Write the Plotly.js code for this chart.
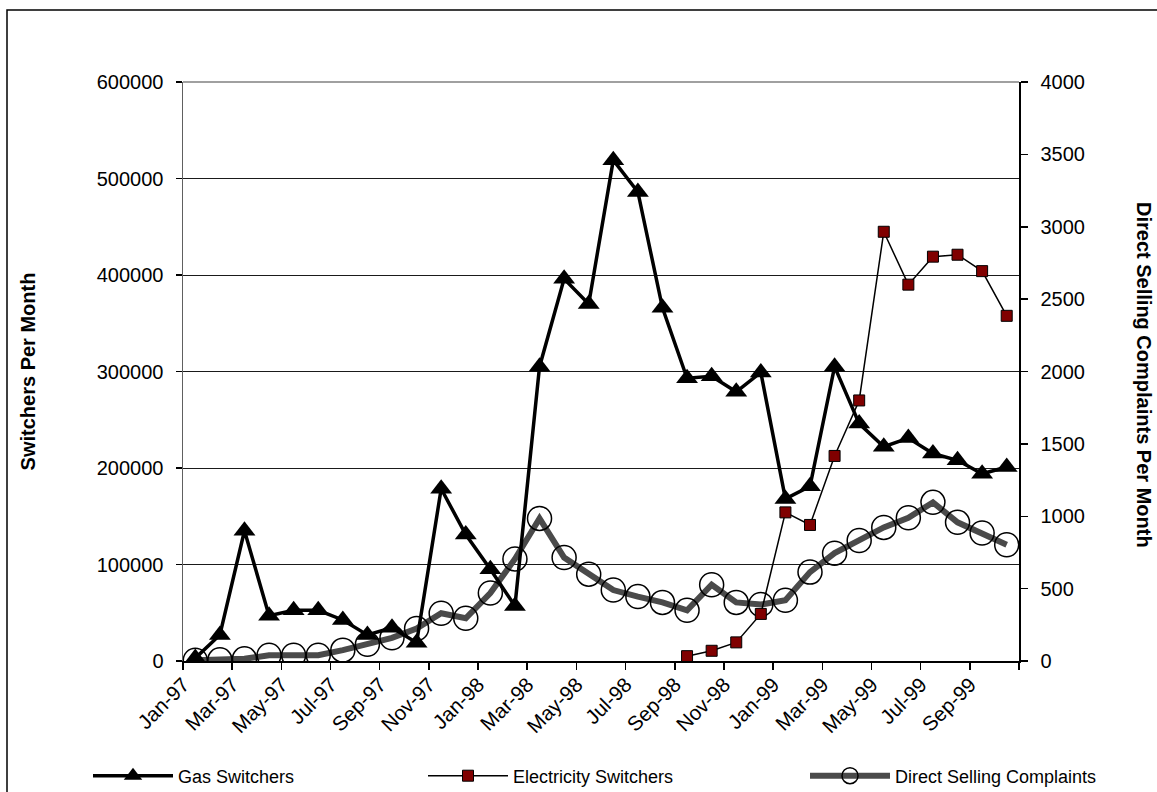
<!DOCTYPE html>
<html>
<head>
<meta charset="utf-8">
<script src="https://cdn.plot.ly/plotly-3.0.1.min.js"></script>
<style>
html,body{margin:0;padding:0;background:#fff;}
#chart{width:1157px;height:792px;}
</style>
</head>
<body>
<div id="chart"></div>
<script>
// Months Jan-97 .. Oct-99 (34 categories)
const months = ["Jan-97","Feb-97","Mar-97","Apr-97","May-97","Jun-97","Jul-97","Aug-97","Sep-97","Oct-97","Nov-97","Dec-97",
  "Jan-98","Feb-98","Mar-98","Apr-98","May-98","Jun-98","Jul-98","Aug-98","Sep-98","Oct-98","Nov-98","Dec-98",
  "Jan-99","Feb-99","Mar-99","Apr-99","May-99","Jun-99","Jul-99","Aug-99","Sep-99","Oct-99"];

const gasSwitchers = [3000, 27000, 135000, 47000, 52500, 52500, 42500, 27000, 34500, 19000, 178500, 131000,
  95000, 57000, 305000, 396000, 370000, 519000, 486000, 366000, 293000, 295000, 279000, 299000,
  168000, 181000, 305000, 246000, 222000, 231000, 215000, 208000, 194000, 201000];

const electricitySwitchers = [null, null, null, null, null, null, null, null, null, null, null, null,
  null, null, null, null, null, null, null, null, 5000, 10600, 19300, 48800,
  154000, 141000, 212500, 270000, 444800, 390000, 419000, 421000, 404000, 357700];

const complaints = [5, 8, 15, 40, 40, 40, 75, 115, 160, 225, 330, 295,
  470, 705, 985, 715, 600, 490, 445, 405, 350, 527, 405, 390,
  420, 614, 745, 832, 923, 990, 1096, 958, 884, 803];

const tickLabels = ["Jan-97","Mar-97","May-97","Jul-97","Sep-97","Nov-97","Jan-98","Mar-98","May-98",
  "Jul-98","Sep-98","Nov-98","Jan-99","Mar-99","May-99","Jul-99","Sep-99"];

const idx = months.map((m, i) => i);
const labelPos = tickLabels.map(l => months.indexOf(l));
const boundaryPos = [];
for (let b = -0.5; b <= months.length - 0.5; b += 2) boundaryPos.push(b);

const FONT = "Liberation Sans, Arial, sans-serif";

const traces = [
  {
    x: idx, y: complaints, yaxis: "y", name: "Direct Selling Complaints",
    type: "scatter", mode: "lines+markers", legend: "legend3",
    line: {color: "#4a4a4a", width: 6},
    marker: {symbol: "circle", size: 24, color: "rgba(0,0,0,0)", line: {color: "#000", width: 1.5}}
  },
  {
    x: idx, y: electricitySwitchers, yaxis: "y2", name: "Electricity Switchers",
    type: "scatter", mode: "lines+markers", legend: "legend2",
    line: {color: "#000", width: 1.5},
    marker: {symbol: "square", size: 11, color: "#800000", line: {color: "#000", width: 1}},
    connectgaps: false
  },
  {
    x: idx, y: gasSwitchers, yaxis: "y2", name: "Gas Switchers",
    type: "scatter", mode: "lines+markers", legend: "legend",
    line: {color: "#000", width: 3.5},
    marker: {symbol: "triangle-up", size: 19, color: "#000"}
  }
];

const W = 1157, H = 792;
const L = 183, R = 1019, T = 82, B = 661;
const px2x = p => (p - L) / (R - L);
const px2y = p => (B - p) / (B - T);

const legendBase = {
  orientation: "h", xref: "container", yref: "container", itemwidth: 80,
  y: 1 - 776 / H, xanchor: "left", yanchor: "middle",
  font: {family: FONT, size: 18, color: "#000"}, bgcolor: "rgba(0,0,0,0)", borderwidth: 0
};

const layout = {
  width: W, height: H,
  margin: {l: L, r: W - R, t: T, b: H - B, pad: 0},
  paper_bgcolor: "#fff", plot_bgcolor: "#fff",
  font: {family: FONT, size: 20, color: "#000"},
  showlegend: true,
  xaxis: {
    range: [-0.5, months.length - 0.5],
    tickmode: "array", tickvals: labelPos, ticktext: tickLabels,
    tickangle: -45, ticks: "", showgrid: false, zeroline: false,
    showline: true, linecolor: "#000", linewidth: 1.5,
    tickfont: {family: FONT, size: 20.5, color: "#000"}, ticklabelshift: -12, ticklabelstandoff: 2,
    minor: {tickmode: "array", tickvals: boundaryPos, ticks: "outside", ticklen: 7, tickcolor: "#000", tickwidth: 1.5, showgrid: false},
    fixedrange: true
  },
  yaxis: {
    side: "right", range: [0, 4000], tickmode: "linear", tick0: 0, dtick: 500,
    tickformat: "d", ticks: "outside", ticklen: 7, tickwidth: 1.5, tickcolor: "#000",
    showgrid: false, zeroline: false, showline: true, linecolor: "#000", linewidth: 1.5,
    tickfont: {family: FONT, size: 20, color: "#000"}, ticklabelstandoff: 9
  },
  yaxis2: {
    overlaying: "y", side: "left", range: [0, 600000], tickmode: "linear", tick0: 0, dtick: 100000,
    tickformat: "d", ticks: "outside", ticklen: 6, tickwidth: 1.5, tickcolor: "#000",
    showgrid: true, gridcolor: "#1a1a1a", gridwidth: 1, zeroline: false,
    showline: true, linecolor: "#606060", linewidth: 1.5,
    tickfont: {family: FONT, size: 20, color: "#000"}, ticklabelstandoff: 8,
    title: {text: "<b>Switchers Per Month</b>", font: {family: FONT, size: 20, color: "#000"}, standoff: 56}
  },
  legend: Object.assign({}, legendBase, {x: 88 / W}),
  legend2: Object.assign({}, legendBase, {x: 423 / W}),
  legend3: Object.assign({}, legendBase, {x: 805 / W}),
  annotations: [
    {
      text: "<b>Direct Selling Complaints Per Month</b>", textangle: 90,
      xref: "paper", yref: "paper", x: px2x(1144), y: px2y(375),
      xanchor: "center", yanchor: "middle", showarrow: false,
      font: {family: FONT, size: 20, color: "#000"}
    }
  ],
  shapes: [
    {type: "line", xref: "paper", yref: "paper", x0: 0, x1: 1, y0: 1, y1: 1, line: {color: "#808080", width: 1.5}},
    {type: "rect", xref: "paper", yref: "paper", x0: px2x(7), x1: px2x(1165), y0: px2y(10), y1: px2y(800),
     line: {color: "#000", width: 1.5}, fillcolor: "rgba(0,0,0,0)"}
  ]
};

Plotly.newPlot("chart", traces, layout, {displayModeBar: false, staticPlot: true});
</script>
</body>
</html>
